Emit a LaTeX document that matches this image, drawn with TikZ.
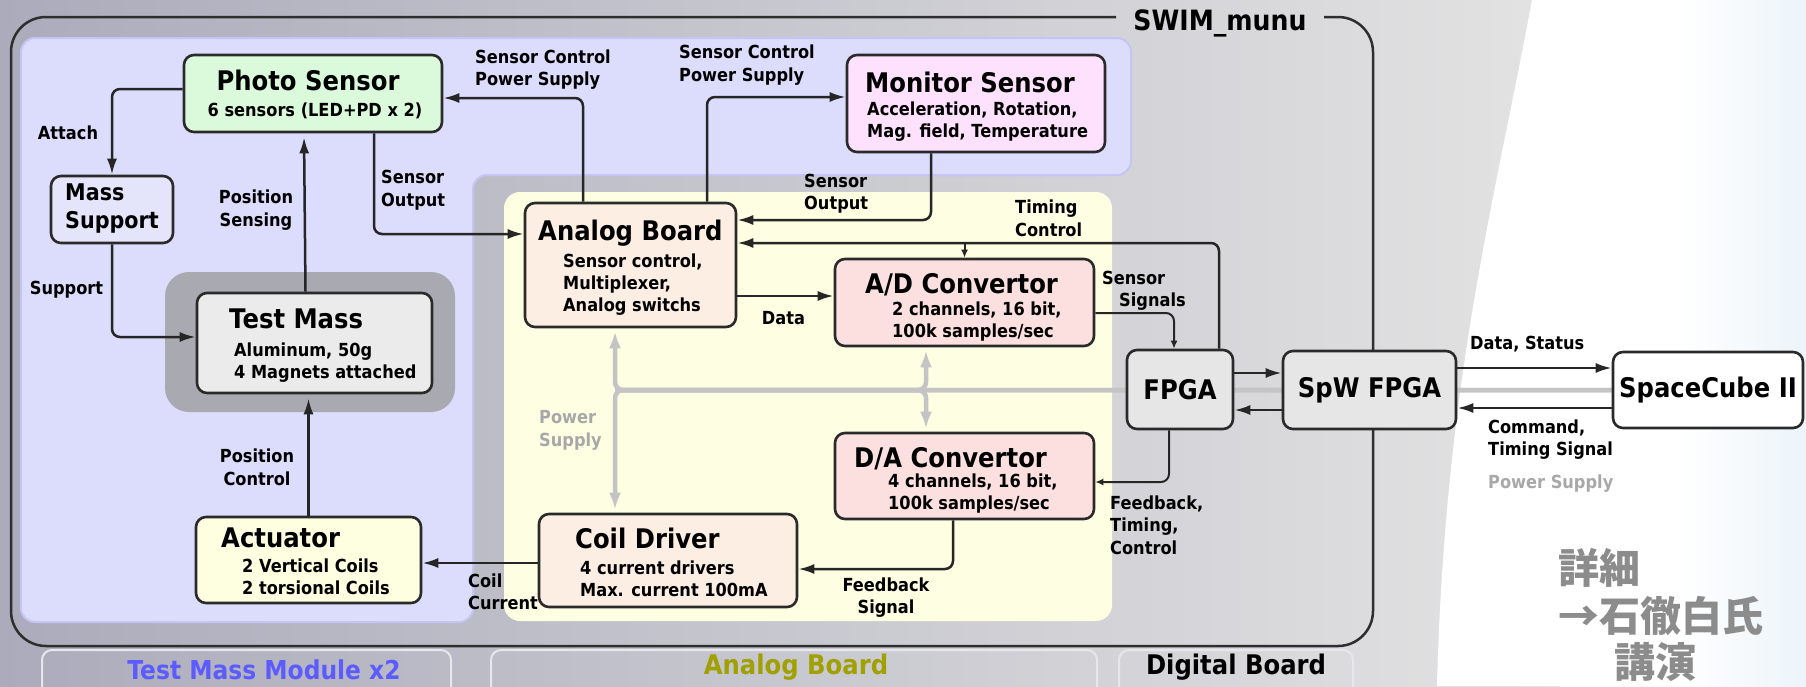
\documentclass[tikz,border=0pt]{standalone}
\usepackage{fontspec}
\setmainfont{DejaVu Sans}[FakeStretch=0.9]
\newfontfamily\jpfont{Noto Sans CJK JP}
\usetikzlibrary{arrows.meta}
\definecolor{bgleft}{HTML}{ABABBB}
\definecolor{bgright}{HTML}{E3E3E3}
\definecolor{skytint}{HTML}{ECF4FA}
\definecolor{framecolor}{HTML}{2E2E2E}
\definecolor{boxline}{HTML}{2A2A2A}
\definecolor{moduleblue}{HTML}{DCDCFD}
\definecolor{moduleedge}{HTML}{C5C5F5}
\definecolor{boardyellow}{HTML}{FEFEE3}
\definecolor{massgray}{HTML}{A9A9B2}
\definecolor{photofill}{HTML}{DBFADB}
\definecolor{monitorfill}{HTML}{FDE1FD}
\definecolor{analogfill}{HTML}{FDEEE4}
\definecolor{convfill}{HTML}{FCDFDF}
\definecolor{actfill}{HTML}{FEFEE0}
\definecolor{massfill}{HTML}{EBEBEB}
\definecolor{supportfill}{HTML}{E4E4FB}
\definecolor{fpgafill}{HTML}{E6E6E6}
\definecolor{powergray}{HTML}{C4C4C4}
\definecolor{powertext}{HTML}{A8A8A8}
\definecolor{tabline}{HTML}{E6E6EC}
\definecolor{moduletext}{HTML}{5B5BFF}
\definecolor{boardtext}{HTML}{A0A000}
\definecolor{notegray}{HTML}{8C8C8C}
\pgfdeclarelayer{back}
\pgfdeclarelayer{mid}
\pgfsetlayers{back,mid,main}
\tikzset{
    unit box/.style = {draw=boxline, line width=2.6pt, rounded corners=10pt, inner sep=0pt},
    unit title/.style = {font=\fontsize{27}{30}\selectfont\bfseries, inner sep=0pt},
    unit info/.style = {font=\fontsize{18}{22}\selectfont\bfseries, inner sep=0pt, align=left},
    link label/.style = {font=\fontsize{18}{22.5}\selectfont\bfseries, inner sep=0pt, align=left},
    power label/.style = {link label, text=powertext},
    signal line/.style = {draw=black!85, line width=2.5pt, rounded corners=8pt, -{Latex[length=16pt, width=10pt]}},
    small line/.style = {draw=black!85, line width=2pt, rounded corners=8pt, -{Latex[length=8pt, width=7pt]}},
    power line/.style = {draw=powergray, line width=4.5pt, rounded corners=8pt, {Latex[length=17pt, width=12pt]}-, shorten <=3pt},
    board tab/.style = {draw=tabline, line width=2pt, rounded corners=10pt},
    board name/.style = {font=\fontsize{27}{30}\selectfont\bfseries, inner sep=0pt},
    note text/.style = {font=\jpfont\bfseries\fontsize{41}{44}\selectfont, text=notegray, inner sep=0pt}
}

\begin{document}
\begin{tikzpicture}[x=1pt, y=-1pt]
    \useasboundingbox (0,0) rectangle (1806,686);
    \begin{pgfonlayer}{back}
        % draw background
        \shade[left color=bgleft, right color=bgright] (0,0) rectangle (1560,686);
        \fill[white] (1532,0) .. controls (1495,200) and (1445,380) .. (1437,686) -- (1806,686) -- (1806,0) -- cycle;
        \shade[left color=white, right color=skytint] (1680,0) rectangle (1806,686);
        % draw board tabs
        \draw[board tab] (42,650) rectangle (451,700);
        \draw[board tab] (491,650) rectangle (1097,700);
        \draw[board tab] (1119,650) rectangle (1353,700);
        % draw module regions
        \draw[fill=moduleblue, draw=moduleedge, line width=2pt, rounded corners=14pt]
            (21,38) -- (1131,38) -- (1131,175) -- (473,175) -- (473,622) -- (21,622) -- cycle;
        \fill[boardyellow, rounded corners=16pt] (504,192) rectangle (1112,621);
        \fill[massgray, rounded corners=24pt] (165,272) rectangle (455,412);
        % draw SWIM frame
        \draw[framecolor, line width=2.5pt, rounded corners=35pt]
            (1116,17) -- (11,17) -- (11,646) -- (1373,646) -- (1373,17) -- (1324,17);
    \end{pgfonlayer}
    \node[font=\fontsize{28}{30}\selectfont\bfseries, inner sep=0pt] (swim) at (1220,23) {SWIM\_munu};

    % draw test mass module units
    \node[unit box, fill=photofill, minimum width=258pt, minimum height=77pt] (ps) at (313,93.5) {};
    \node[unit title, anchor=base] (ps title) at (308,90) {Photo Sensor};
    \node[unit info, anchor=base] (ps info) at (315,116.5) {6 sensors (LED+PD x 2)};
    \node[unit box, fill=supportfill, minimum width=122pt, minimum height=67pt] (ms) at (112,209.5) {};
    \node[font=\fontsize{23}{28}\selectfont\bfseries, inner sep=0pt, align=left, anchor=west] (ms title) at (65,209) {Mass\\Support};
    \node[unit box, fill=massfill, minimum width=235pt, minimum height=100pt] (tm) at (314.5,343) {};
    \node[unit title, anchor=base west] (tm title) at (229,328) {Test Mass};
    \node[unit info, anchor=west] (tm info) at (234,363) {Aluminum, 50g\\4 Magnets attached};
    \node[unit box, fill=actfill, minimum width=225pt, minimum height=86pt] (act) at (308.5,560) {};
    \node[unit title, anchor=base west] (act title) at (221,547) {Actuator};
    \node[unit info, anchor=west] (act info) at (242,577) {2 Vertical Coils\\2 torsional Coils};
    \node[unit box, fill=monitorfill, minimum width=258pt, minimum height=97pt] (mon) at (976,103.5) {};
    \node[unit title, anchor=base] (mon title) at (970,92) {Monitor Sensor};
    \node[unit info, anchor=west] (mon info) at (867,121.5) {Acceleration, Rotation,\\Mag. field, Temperature};

    % draw analog board units
    \node[unit box, fill=analogfill, minimum width=211pt, minimum height=124pt] (ab) at (630.5,265) {};
    \node[unit title, anchor=base west] (ab title) at (538,240) {Analog Board};
    \node[unit info, anchor=west] (ab info) at (563,285) {Sensor control,\\Multiplexer,\\Analog switchs};
    \node[unit box, fill=convfill, minimum width=259pt, minimum height=87pt] (ad) at (964.5,302.5) {};
    \node[unit title, anchor=base west] (ad title) at (865,293) {A/D Convertor};
    \node[unit info, anchor=west] (ad info) at (892,322) {2 channels, 16 bit,\\100k samples/sec};
    \node[unit box, fill=convfill, minimum width=259pt, minimum height=86pt] (da) at (964.5,476) {};
    \node[unit title, anchor=base west] (da title) at (854,467) {D/A Convertor};
    \node[unit info, anchor=west] (da info) at (888,493.5) {4 channels, 16 bit,\\100k samples/sec};
    \node[unit box, fill=analogfill, minimum width=258pt, minimum height=93pt] (cd) at (668,560.5) {};
    \node[unit title, anchor=base west] (cd title) at (575,548) {Coil Driver};
    \node[unit info, anchor=west] (cd info) at (580,579) {4 current drivers\\Max. current 100mA};

    % draw digital units
    \node[unit box, unit title, fill=fpgafill, minimum width=106pt, minimum height=79pt] (fpga) at (1180,389.5) {FPGA};
    \node[unit box, unit title, fill=fpgafill, minimum width=173pt, minimum height=78pt] (spw) at (1369.5,390) {SpW FPGA};
    \node[unit box, unit title, fill=white, minimum width=190pt, minimum height=76pt] (sc) at (1708,390) {SpaceCube II};

    % draw power supply lines
    \begin{pgfonlayer}{mid}
        \coordinate (pw up) at ([xshift=-15.5pt]ab.south);
        \coordinate (pw bus) at (pw up |- sc.west);
        \draw[power line] (pw up) |- (sc.west);
        \draw[power line] ([xshift=-53pt]cd.north) |- (sc.west);
        \draw[power line] ([xshift=-38.5pt]ad.south) |- (pw bus);
        \draw[power line] ([xshift=-38.5pt]da.north) |- (pw bus);
    \end{pgfonlayer}

    % draw signal lines
    \draw[signal line] ([yshift=4.5pt]ps.west) -| (ms.north);
    \draw[signal line] (ms.south) |- ([yshift=6pt]tm.west);
    \draw[signal line, shorten >=4pt] ([xshift=-9pt]tm.north) -- ([xshift=-9pt]ps.south);
    \draw[signal line] ([xshift=61pt]ps.south) |- ([yshift=31pt]ab.west);
    \draw[signal line] ([xshift=-47.5pt]ab.north) |- ([yshift=-4.5pt]ps.east);
    \draw[signal line] ([xshift=76.5pt]ab.north) |- ([yshift=6.5pt]mon.west);
    \draw[signal line] ([xshift=-45pt]mon.south) |- ([yshift=45pt]ab.east);
    \coordinate (tc) at ([yshift=22pt]ab.east);
    \draw[signal line] ([xshift=39pt]fpga.north) |- (tc);
    \draw[small line] (ad.north |- tc) -- (ad.north);
    \coordinate (data out) at ([yshift=-31pt]ab.east);
    \draw[signal line] (data out) -- (data out -| ad.west);
    \draw[small line] ([yshift=-10.5pt]ad.east) -| ([xshift=-6pt]fpga.north);
    \coordinate (up out) at ([yshift=16.5pt]fpga.east);
    \draw[signal line] (up out) -- (up out -| spw.west);
    \coordinate (down out) at ([yshift=-20pt]spw.west);
    \draw[signal line] (down out) -- (down out -| fpga.east);
    \coordinate (status out) at ([yshift=22pt]spw.east);
    \draw[signal line] (status out) -- (status out -| sc.west);
    \coordinate (command out) at ([yshift=-18pt]sc.west);
    \draw[signal line] (command out) -- (command out -| spw.east);
    \draw[small line] ([xshift=-11pt]fpga.south) |- ([yshift=-6pt]da.east);
    \draw[signal line] ([xshift=-11.5pt]da.south) |- ([yshift=-8.5pt]cd.east);
    \coordinate (coil out) at ([yshift=-2.5pt]cd.west);
    \draw[signal line] (coil out) -- (coil out -| act.east);
    \draw[signal line, shorten >=4pt] (act.north) -- (act.north |- tm.south);

    % draw line labels
    \node[link label] (attach) at (68,133) {Attach};
    \node[link label, align=center] (pos sensing) at (256,210) {Position\\Sensing};
    \node[link label, anchor=west] (ps output) at (381,190) {Sensor\\Output};
    \node[link label] (support) at (66.5,290) {Support};
    \node[link label, anchor=west] (ctrl left) at (475,69.5) {Sensor Control\\Power Supply};
    \node[link label, anchor=west] (ctrl right) at (679,65) {Sensor Control\\Power Supply};
    \node[link label, anchor=west] (mon output) at (804,193.5) {Sensor\\Output};
    \node[link label, anchor=west] (timing) at (1015,218.5) {Timing\\Control};
    \node[link label] (data) at (783.5,318) {Data};
    \node[link label, anchor=west] (signals) at (1102,291) {Sensor\\\hspace*{17pt}Signals};
    \node[power label, anchor=west] (power) at (539,430.5) {Power\\Supply};
    \node[link label, anchor=west] (fb ctrl) at (1110,525) {Feedback,\\Timing,\\Control};
    \node[link label, align=center] (fb signal) at (886,597.5) {Feedback\\Signal};
    \node[link label, anchor=west] (coil current) at (468,592) {Coil\\Current};
    \node[link label, anchor=west] (status) at (1470,344) {Data, Status};
    \node[link label, anchor=west] (command) at (1488,439.5) {Command,\\Timing Signal};
    \node[power label, anchor=west] (power out) at (1488,484) {Power Supply};
    \node[link label, align=center] (pos control) at (257,467.5) {Position\\Control};

    % draw board names
    \node[board name, text=moduletext, font=\fontsize{26}{30}\selectfont\bfseries] (tm module) at (264,670) {Test Mass Module x2};
    \node[board name, text=boardtext] (an module) at (796,667) {Analog Board};
    \node[board name] (dg module) at (1236,667) {Digital Board};

    % draw note
    \node[note text, anchor=west] (note a) at (1558,568) {詳細};
    \node[note text, anchor=west] (note b) at (1558,616) {→石徹白氏};
    \node[note text, anchor=west] (note c) at (1614,662) {講演};
\end{tikzpicture}
\end{document}
